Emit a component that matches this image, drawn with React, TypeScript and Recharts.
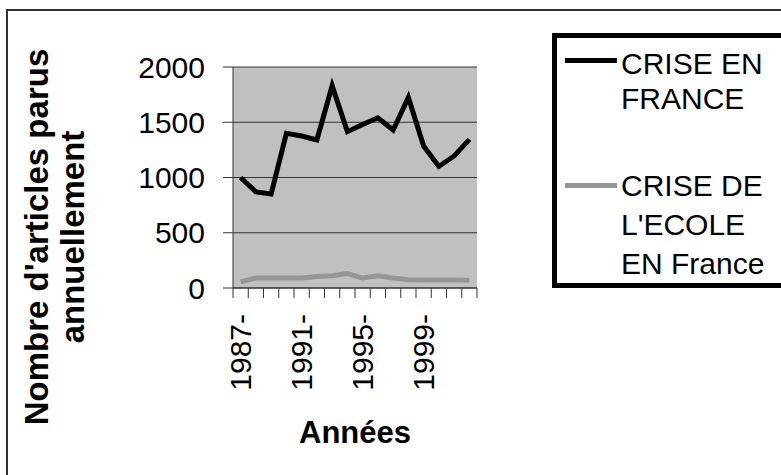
import { LineChart, Line, XAxis, YAxis, CartesianGrid, Legend } from 'recharts'

const years = [
  '1987-', '1988-', '1989-', '1990-', '1991-', '1992-', '1993-', '1994-',
  '1995-', '1996-', '1997-', '1998-', '1999-', '2000-', '2001-', '2002-'
]
const criseFrance = [1000, 870, 850, 1400, 1375, 1340, 1830, 1415, 1480, 1540, 1430, 1725, 1285, 1100, 1195, 1345]
const criseEcole = [55, 90, 90, 90, 90, 105, 110, 130, 90, 110, 90, 75, 72, 72, 72, 70]
const yTicks = [0, 500, 1000, 1500, 2000]
const seriesNames = ['CRISE EN FRANCE', "CRISE DE L'ECOLE EN France"]
const legendLines = [['CRISE EN', 'FRANCE'], ['CRISE DE', "L'ECOLE", 'EN France']]
const labelEvery = 4

const data = years.map((year, i) => ({ year, france: criseFrance[i], ecole: criseEcole[i] }))

const FONT = 'Arial, "Liberation Sans", sans-serif'
const W = 781
const H = 475
// plot box
const LEFT = 233
const RIGHT = 477
const TOP = 67
const BOTTOM = 288
const Y_AXIS_W = 100
const X_AXIS_H = 120
const BAND = (RIGHT - LEFT) / years.length
const TICK = 10

const XTick = (props: any) => {
  const { x, y, payload, index } = props
  const axisY = y - TICK
  const half = BAND / 2
  return (
    <g>
      <line x1={x - half} x2={x - half} y1={axisY} y2={axisY + TICK} stroke="#333" />
      {index === years.length - 1 && (
        <line x1={x + half} x2={x + half} y1={axisY} y2={axisY + TICK} stroke="#333" />
      )}
      {index % labelEvery === 0 && (
        <text
          transform={`translate(${x},${axisY + 26}) rotate(-90)`}
          textAnchor="end"
          dy="0.36em"
          fontSize={30}
          fontFamily={FONT}
          fill="#000"
        >
          {payload.value}
        </text>
      )}
    </g>
  )
}

const renderLegend = (props: any) => {
  const { payload } = props
  const tops = [8, 128]
  const symbolTops = [20, 145]
  const lineHeights = [35, 39]
  return (
    <div
      style={{
        position: 'relative',
        width: 250,
        height: 255,
        boxSizing: 'border-box',
        border: '5px solid #000',
        background: '#fff',
        fontFamily: FONT,
        fontSize: 30,
        color: '#000'
      }}
    >
      {(payload || []).map((entry: any) => {
        const i = seriesNames.indexOf(entry.value)
        return (
          <div key={entry.value}>
            <div
              style={{
                position: 'absolute',
                left: 8,
                top: symbolTops[i],
                width: 52,
                height: 5,
                background: entry.color
              }}
            />
            <div
              style={{
                position: 'absolute',
                left: 64,
                top: tops[i],
                lineHeight: `${lineHeights[i]}px`,
                whiteSpace: 'nowrap'
              }}
            >
              {legendLines[i].map(l => (
                <div key={l}>{l}</div>
              ))}
            </div>
          </div>
        )
      })}
    </div>
  )
}

export default function App() {
  return (
    <div style={{ position: 'relative', width: W, height: H, overflow: 'hidden', background: '#fff' }}>
      <style>{'body{margin:0}'}</style>
      <div
        style={{
          position: 'absolute',
          left: 6,
          top: 9,
          width: 900,
          height: 600,
          border: '2px solid #333'
        }}
      />
      <LineChart
        width={W}
        height={H}
        data={data}
        margin={{
          top: TOP,
          left: LEFT - Y_AXIS_W,
          right: W - RIGHT,
          bottom: H - BOTTOM - X_AXIS_H
        }}
      >
        <CartesianGrid vertical={false} stroke="#333" fill="#c0c0c0" fillOpacity={1} />
        <XAxis
          dataKey="year"
          interval={0}
          height={X_AXIS_H}
          padding={{ left: BAND / 2, right: BAND / 2 }}
          tickLine={false}
          tickSize={TICK}
          tickMargin={0}
          axisLine={{ stroke: '#333' }}
          tick={<XTick />}
          label={{
            content: (p: any) => (
              <text
                x={p.viewBox.x + p.viewBox.width / 2}
                y={p.viewBox.y + 155}
                textAnchor="middle"
                fontSize={31}
                fontWeight="bold"
                fontFamily={FONT}
                fill="#000"
              >
                Années
              </text>
            )
          }}
        />
        <YAxis
          width={Y_AXIS_W}
          domain={[0, 2000]}
          ticks={yTicks}
          interval={0}
          tickSize={TICK}
          tickMargin={18}
          axisLine={{ stroke: '#333' }}
          tickLine={{ stroke: '#333' }}
          tick={{ fontSize: 30, fill: '#000', fontFamily: FONT }}
          label={{
            content: () => (
              <text
                transform="translate(0,237) rotate(-90)"
                textAnchor="middle"
                fontSize={33}
                fontWeight="bold"
                fontFamily={FONT}
                fill="#000"
              >
                <tspan x={0} y={48}>Nombre d'articles parus</tspan>
                <tspan x={0} y={84}>annuellement</tspan>
              </text>
            )
          }}
        />
        <YAxis
          yAxisId="r"
          orientation="right"
          width={0}
          domain={[0, 2000]}
          tick={false}
          tickLine={false}
          axisLine={{ stroke: '#808080' }}
        />
        <Legend
          layout="horizontal"
          verticalAlign="middle"
          align="center"
          wrapperStyle={{ left: 552, top: 33, width: 250, height: 255 }}
          content={renderLegend}
        />
        <Line
          type="linear"
          dataKey="france"
          name={seriesNames[0]}
          stroke="#000"
          strokeWidth={5}
          dot={false}
          isAnimationActive={false}
        />
        <Line
          type="linear"
          dataKey="ecole"
          name={seriesNames[1]}
          stroke="#969696"
          strokeWidth={5}
          dot={false}
          isAnimationActive={false}
        />
      </LineChart>
    </div>
  )
}
